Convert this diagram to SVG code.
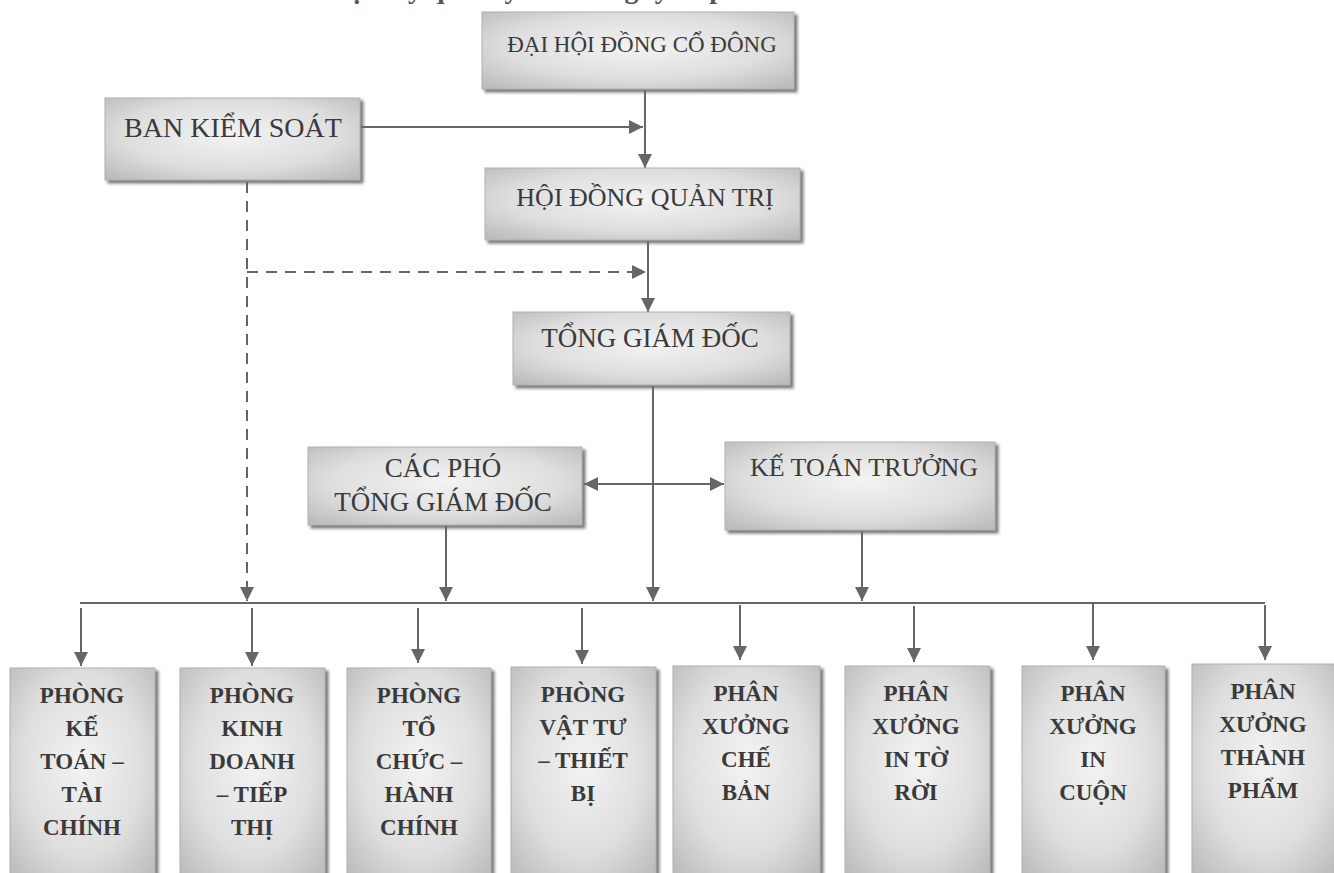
<svg xmlns="http://www.w3.org/2000/svg" width="1334" height="873" viewBox="0 0 1334 873">
<defs>
<radialGradient id="boxfill" cx="50%" cy="45%" r="70%">
<stop offset="0" stop-color="#f3f3f3"/>
<stop offset="0.6" stop-color="#dedede"/>
<stop offset="1" stop-color="#bcbcbc"/>
</radialGradient>
<filter id="shadow" x="-10%" y="-10%" width="130%" height="130%">
<feDropShadow dx="3" dy="3" stdDeviation="1.5" flood-color="#6a6a6a" flood-opacity="0.9"/>
</filter>
<marker id="arrB" viewBox="0 0 10 10" refX="10" refY="5" markerWidth="14" markerHeight="14" markerUnits="userSpaceOnUse" orient="auto-start-reverse">
<path d="M0,0 L10,5 L0,10 z" fill="#666"/>
</marker>
</defs>
<style>
.box{fill:url(#boxfill);stroke:#b0b0b0;stroke-width:1;filter:url(#shadow);}
.t{font-family:"Liberation Serif","Times New Roman",serif;fill:#3a3a3a;text-anchor:middle;}
.bot{font-size:23px;font-weight:bold;}
.title{font-family:"Liberation Serif","Times New Roman",serif;font-size:28px;font-weight:bold;fill:#555;}
.c{fill:none;stroke:#666;stroke-width:2;}
.d{fill:none;stroke:#666;stroke-width:2;stroke-dasharray:11 8;}
</style>
<rect width="1334" height="873" fill="#ffffff"/>
<text class="title" x="165" y="-2">Sơ đồ tổ chức bộ máy quản lý của Công ty cổ phần</text>

<g id="connectors">
<line class="c" x1="645" y1="90" x2="645" y2="168" marker-end="url(#arrB)"/>
<line class="c" x1="360" y1="127" x2="643" y2="127" marker-end="url(#arrB)"/>
<line class="c" x1="648" y1="240" x2="648" y2="312" marker-end="url(#arrB)"/>
<line class="d" x1="247" y1="182" x2="247" y2="601" marker-end="url(#arrB)"/>
<line class="d" x1="247" y1="272" x2="646" y2="272" marker-end="url(#arrB)"/>
<line class="c" x1="653" y1="385" x2="653" y2="601" marker-end="url(#arrB)"/>
<line class="c" x1="584" y1="484" x2="724" y2="484" marker-start="url(#arrB)" marker-end="url(#arrB)"/>
<line class="c" x1="446" y1="526" x2="446" y2="601" marker-end="url(#arrB)"/>
<line class="c" x1="862" y1="531" x2="862" y2="601" marker-end="url(#arrB)"/>
<line class="c" x1="80" y1="603" x2="1265" y2="603"/>
<line class="c" x1="81" y1="608" x2="81" y2="666" marker-end="url(#arrB)"/>
<line class="c" x1="252" y1="608" x2="252" y2="666" marker-end="url(#arrB)"/>
<line class="c" x1="418" y1="608" x2="418" y2="663" marker-end="url(#arrB)"/>
<line class="c" x1="582" y1="608" x2="582" y2="664" marker-end="url(#arrB)"/>
<line class="c" x1="740" y1="605" x2="740" y2="660" marker-end="url(#arrB)"/>
<line class="c" x1="914" y1="606" x2="914" y2="662" marker-end="url(#arrB)"/>
<line class="c" x1="1093" y1="603" x2="1093" y2="660" marker-end="url(#arrB)"/>
<line class="c" x1="1265" y1="605" x2="1265" y2="660" marker-end="url(#arrB)"/>
</g>

<g id="dhdcd">
<rect class="box" x="482" y="12" width="312" height="77"/>
<text class="t" x="642" y="52" font-size="23">ĐẠI HỘI ĐỒNG CỔ ĐÔNG</text>
</g>
<g id="bks">
<rect class="box" x="105" y="98" width="255" height="82"/>
<text class="t" x="233" y="137" font-size="28">BAN KIỂM SOÁT</text>
</g>
<g id="hdqt">
<rect class="box" x="485" y="168" width="315" height="72"/>
<text class="t" x="645" y="206" font-size="26">HỘI ĐỒNG QUẢN TRỊ</text>
</g>
<g id="tgd">
<rect class="box" x="513" y="312" width="277" height="73"/>
<text class="t" x="650" y="347" font-size="27">TỔNG GIÁM ĐỐC</text>
</g>
<g id="cacpho">
<rect class="box" x="308" y="447" width="274" height="78"/>
<text class="t" x="443" y="477" font-size="27">CÁC PHÓ</text>
<text class="t" x="443" y="511" font-size="27">TỔNG GIÁM ĐỐC</text>
</g>
<g id="ktt">
<rect class="box" x="725" y="442" width="270" height="88"/>
<text class="t" x="864" y="476" font-size="26">KẾ TOÁN TRƯỞNG</text>
</g>

<g id="p1">
<rect class="box" x="10" y="668" width="145" height="215"/>
<text class="t bot" x="82" y="703">PHÒNG</text>
<text class="t bot" x="82" y="736">KẾ</text>
<text class="t bot" x="82" y="769">TOÁN –</text>
<text class="t bot" x="82" y="802">TÀI</text>
<text class="t bot" x="82" y="835">CHÍNH</text>
</g>
<g id="p2">
<rect class="box" x="180" y="668" width="145" height="215"/>
<text class="t bot" x="252" y="703">PHÒNG</text>
<text class="t bot" x="252" y="736">KINH</text>
<text class="t bot" x="252" y="769">DOANH</text>
<text class="t bot" x="252" y="802">– TIẾP</text>
<text class="t bot" x="252" y="835">THỊ</text>
</g>
<g id="p3">
<rect class="box" x="347" y="668" width="144" height="215"/>
<text class="t bot" x="419" y="703">PHÒNG</text>
<text class="t bot" x="419" y="736">TỔ</text>
<text class="t bot" x="419" y="769">CHỨC –</text>
<text class="t bot" x="419" y="802">HÀNH</text>
<text class="t bot" x="419" y="835">CHÍNH</text>
</g>
<g id="p4">
<rect class="box" x="511" y="667" width="145" height="215"/>
<text class="t bot" x="583" y="702">PHÒNG</text>
<text class="t bot" x="583" y="735">VẬT TƯ</text>
<text class="t bot" x="583" y="768">– THIẾT</text>
<text class="t bot" x="583" y="801">BỊ</text>
</g>
<g id="p5">
<rect class="box" x="673" y="666" width="147" height="215"/>
<text class="t bot" x="746" y="701">PHÂN</text>
<text class="t bot" x="746" y="734">XƯỞNG</text>
<text class="t bot" x="746" y="767">CHẾ</text>
<text class="t bot" x="746" y="800">BẢN</text>
</g>
<g id="p6">
<rect class="box" x="845" y="666" width="145" height="215"/>
<text class="t bot" x="916" y="701">PHÂN</text>
<text class="t bot" x="916" y="734">XƯỞNG</text>
<text class="t bot" x="916" y="767">IN TỜ</text>
<text class="t bot" x="916" y="800">RỜI</text>
</g>
<g id="p7">
<rect class="box" x="1022" y="666" width="143" height="215"/>
<text class="t bot" x="1093" y="701">PHÂN</text>
<text class="t bot" x="1093" y="734">XƯỞNG</text>
<text class="t bot" x="1093" y="767">IN</text>
<text class="t bot" x="1093" y="800">CUỘN</text>
</g>
<g id="p8">
<rect class="box" x="1192" y="664" width="145" height="215"/>
<text class="t bot" x="1263" y="699">PHÂN</text>
<text class="t bot" x="1263" y="732">XƯỞNG</text>
<text class="t bot" x="1263" y="765">THÀNH</text>
<text class="t bot" x="1263" y="798">PHẨM</text>
</g>
</svg>
